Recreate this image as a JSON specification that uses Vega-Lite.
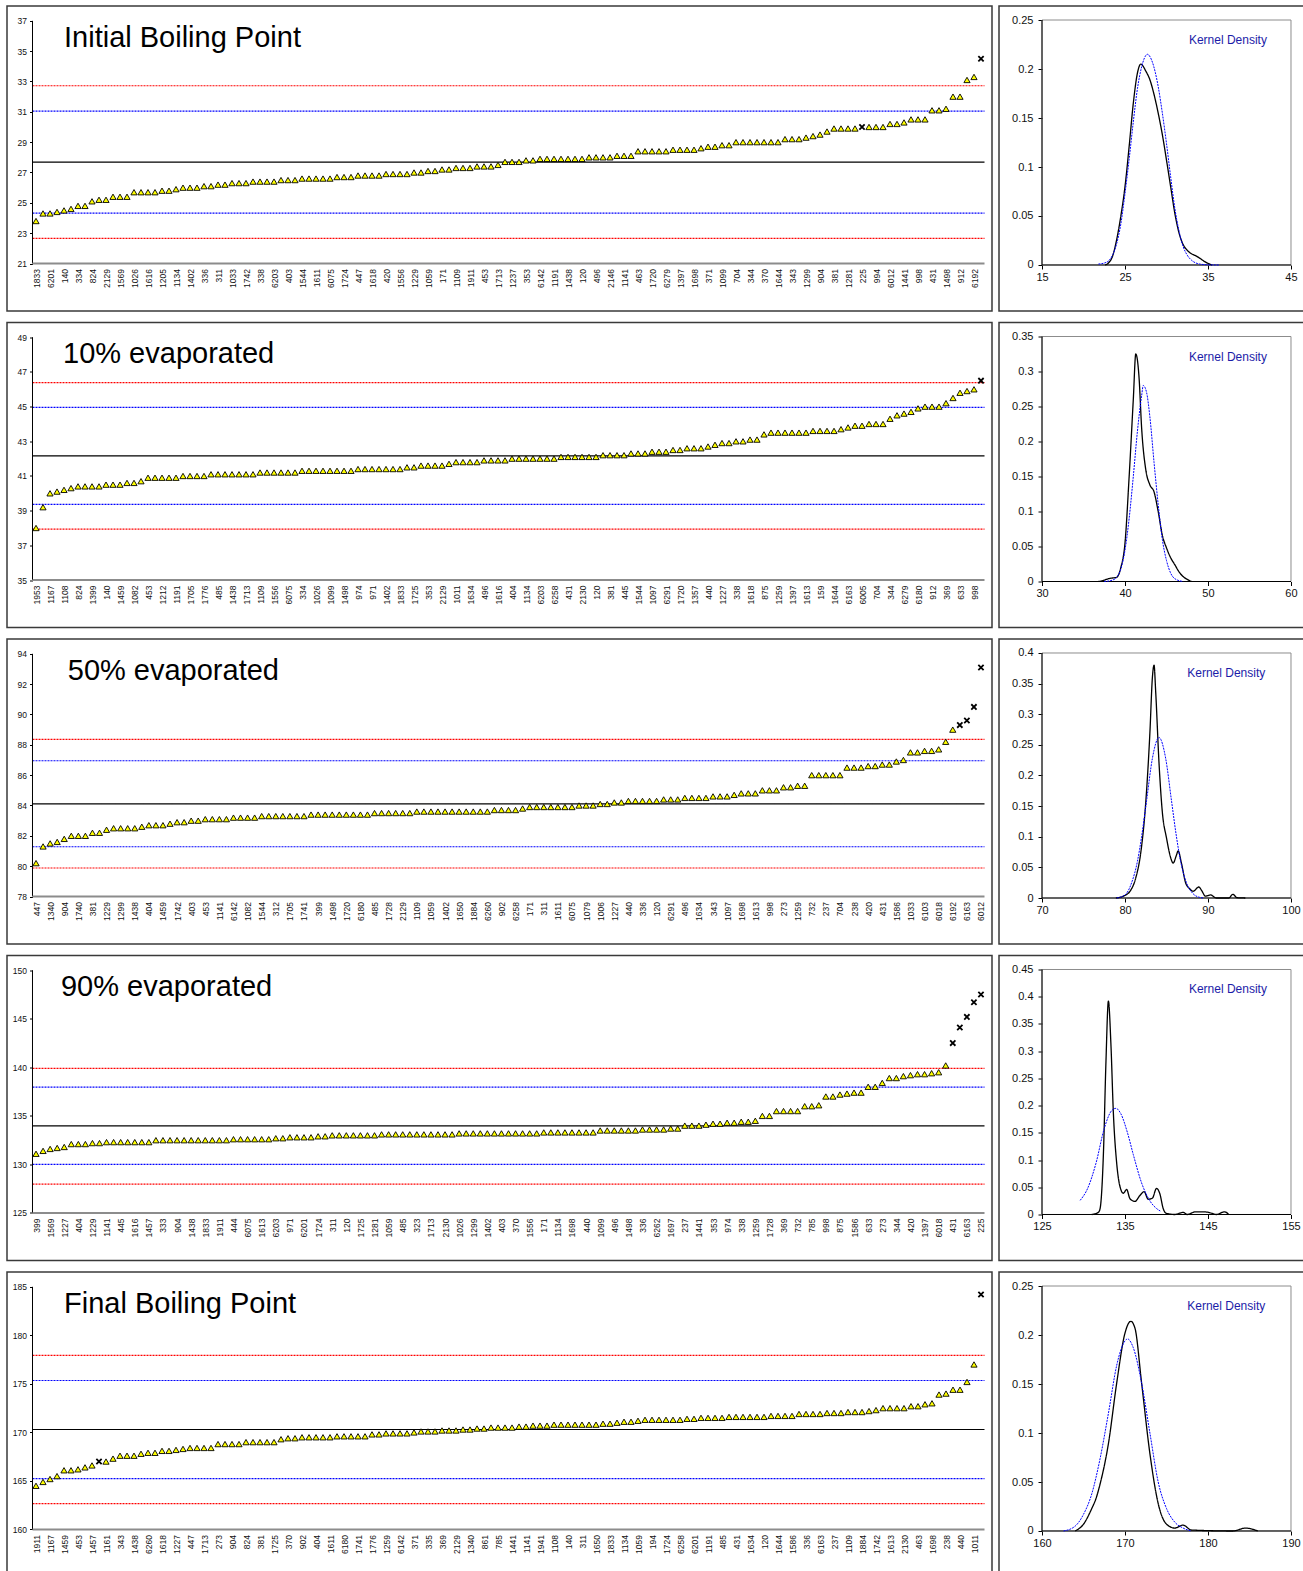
{
  "$schema": "https://vega.github.io/schema/vega-lite/v6.json",
  "background": "white",
  "padding": {"left": 6, "top": 5, "right": 0, "bottom": 0},
  "config": {
    "font": "Liberation Sans",
    "view": {"stroke": "#3a3a3a", "strokeWidth": 1.5},
    "axis": {"grid": false, "labelFont": "Liberation Sans", "labelColor": "#111111", "title": null, "domain": false, "tickCount": 300}
  },
  "datasets": {
    "p1": [{"i":0,"v":23.8},{"i":1,"v":24.3},{"i":2,"v":24.3},{"i":3,"v":24.4},{"i":4,"v":24.5},{"i":5,"v":24.6},{"i":6,"v":24.8},{"i":7,"v":24.8},{"i":8,"v":25.1},{"i":9,"v":25.2},{"i":10,"v":25.2},{"i":11,"v":25.4},{"i":12,"v":25.4},{"i":13,"v":25.4},{"i":14,"v":25.7},{"i":15,"v":25.7},{"i":16,"v":25.7},{"i":17,"v":25.7},{"i":18,"v":25.8},{"i":19,"v":25.8},{"i":20,"v":25.9},{"i":21,"v":26.0},{"i":22,"v":26.0},{"i":23,"v":26.0},{"i":24,"v":26.1},{"i":25,"v":26.1},{"i":26,"v":26.2},{"i":27,"v":26.2},{"i":28,"v":26.3},{"i":29,"v":26.3},{"i":30,"v":26.3},{"i":31,"v":26.4},{"i":32,"v":26.4},{"i":33,"v":26.4},{"i":34,"v":26.4},{"i":35,"v":26.5},{"i":36,"v":26.5},{"i":37,"v":26.5},{"i":38,"v":26.6},{"i":39,"v":26.6},{"i":40,"v":26.6},{"i":41,"v":26.6},{"i":42,"v":26.6},{"i":43,"v":26.7},{"i":44,"v":26.7},{"i":45,"v":26.7},{"i":46,"v":26.8},{"i":47,"v":26.8},{"i":48,"v":26.8},{"i":49,"v":26.8},{"i":50,"v":26.9},{"i":51,"v":26.9},{"i":52,"v":26.9},{"i":53,"v":26.9},{"i":54,"v":27.0},{"i":55,"v":27.0},{"i":56,"v":27.1},{"i":57,"v":27.1},{"i":58,"v":27.2},{"i":59,"v":27.2},{"i":60,"v":27.3},{"i":61,"v":27.3},{"i":62,"v":27.3},{"i":63,"v":27.4},{"i":64,"v":27.4},{"i":65,"v":27.4},{"i":66,"v":27.5},{"i":67,"v":27.7},{"i":68,"v":27.7},{"i":69,"v":27.7},{"i":70,"v":27.8},{"i":71,"v":27.8},{"i":72,"v":27.9},{"i":73,"v":27.9},{"i":74,"v":27.9},{"i":75,"v":27.9},{"i":76,"v":27.9},{"i":77,"v":27.9},{"i":78,"v":27.9},{"i":79,"v":28.0},{"i":80,"v":28.0},{"i":81,"v":28.0},{"i":82,"v":28.0},{"i":83,"v":28.1},{"i":84,"v":28.1},{"i":85,"v":28.1},{"i":86,"v":28.4},{"i":87,"v":28.4},{"i":88,"v":28.4},{"i":89,"v":28.4},{"i":90,"v":28.4},{"i":91,"v":28.5},{"i":92,"v":28.5},{"i":93,"v":28.5},{"i":94,"v":28.5},{"i":95,"v":28.6},{"i":96,"v":28.7},{"i":97,"v":28.7},{"i":98,"v":28.8},{"i":99,"v":28.8},{"i":100,"v":29.0},{"i":101,"v":29.0},{"i":102,"v":29.0},{"i":103,"v":29.0},{"i":104,"v":29.0},{"i":105,"v":29.0},{"i":106,"v":29.0},{"i":107,"v":29.2},{"i":108,"v":29.2},{"i":109,"v":29.2},{"i":110,"v":29.3},{"i":111,"v":29.4},{"i":112,"v":29.5},{"i":113,"v":29.7},{"i":114,"v":29.9},{"i":115,"v":29.9},{"i":116,"v":29.9},{"i":117,"v":29.9},{"i":118,"v":30.0,"o":true},{"i":119,"v":30.0},{"i":120,"v":30.0},{"i":121,"v":30.0},{"i":122,"v":30.2},{"i":123,"v":30.2},{"i":124,"v":30.3},{"i":125,"v":30.5},{"i":126,"v":30.5},{"i":127,"v":30.5},{"i":128,"v":31.1},{"i":129,"v":31.1},{"i":130,"v":31.2},{"i":131,"v":32.0},{"i":132,"v":32.0},{"i":133,"v":33.1},{"i":134,"v":33.3},{"i":135,"v":34.5,"o":true}],
    "p2": [{"i":0,"v":38.0},{"i":1,"v":39.2},{"i":2,"v":40.0},{"i":3,"v":40.1},{"i":4,"v":40.2},{"i":5,"v":40.3},{"i":6,"v":40.4},{"i":7,"v":40.4},{"i":8,"v":40.4},{"i":9,"v":40.4},{"i":10,"v":40.5},{"i":11,"v":40.5},{"i":12,"v":40.5},{"i":13,"v":40.6},{"i":14,"v":40.6},{"i":15,"v":40.7},{"i":16,"v":40.9},{"i":17,"v":40.9},{"i":18,"v":40.9},{"i":19,"v":40.9},{"i":20,"v":40.9},{"i":21,"v":41.0},{"i":22,"v":41.0},{"i":23,"v":41.0},{"i":24,"v":41.0},{"i":25,"v":41.1},{"i":26,"v":41.1},{"i":27,"v":41.1},{"i":28,"v":41.1},{"i":29,"v":41.1},{"i":30,"v":41.1},{"i":31,"v":41.1},{"i":32,"v":41.2},{"i":33,"v":41.2},{"i":34,"v":41.2},{"i":35,"v":41.2},{"i":36,"v":41.2},{"i":37,"v":41.2},{"i":38,"v":41.3},{"i":39,"v":41.3},{"i":40,"v":41.3},{"i":41,"v":41.3},{"i":42,"v":41.3},{"i":43,"v":41.3},{"i":44,"v":41.3},{"i":45,"v":41.3},{"i":46,"v":41.4},{"i":47,"v":41.4},{"i":48,"v":41.4},{"i":49,"v":41.4},{"i":50,"v":41.4},{"i":51,"v":41.4},{"i":52,"v":41.4},{"i":53,"v":41.5},{"i":54,"v":41.5},{"i":55,"v":41.6},{"i":56,"v":41.6},{"i":57,"v":41.6},{"i":58,"v":41.6},{"i":59,"v":41.7},{"i":60,"v":41.8},{"i":61,"v":41.8},{"i":62,"v":41.8},{"i":63,"v":41.8},{"i":64,"v":41.9},{"i":65,"v":41.9},{"i":66,"v":41.9},{"i":67,"v":41.9},{"i":68,"v":42.0},{"i":69,"v":42.0},{"i":70,"v":42.0},{"i":71,"v":42.0},{"i":72,"v":42.0},{"i":73,"v":42.0},{"i":74,"v":42.0},{"i":75,"v":42.1},{"i":76,"v":42.1},{"i":77,"v":42.1},{"i":78,"v":42.1},{"i":79,"v":42.1},{"i":80,"v":42.1},{"i":81,"v":42.2},{"i":82,"v":42.2},{"i":83,"v":42.2},{"i":84,"v":42.2},{"i":85,"v":42.3},{"i":86,"v":42.3},{"i":87,"v":42.3},{"i":88,"v":42.4},{"i":89,"v":42.4},{"i":90,"v":42.4},{"i":91,"v":42.5},{"i":92,"v":42.5},{"i":93,"v":42.6},{"i":94,"v":42.6},{"i":95,"v":42.6},{"i":96,"v":42.7},{"i":97,"v":42.8},{"i":98,"v":42.9},{"i":99,"v":42.9},{"i":100,"v":43.0},{"i":101,"v":43.0},{"i":102,"v":43.1},{"i":103,"v":43.1},{"i":104,"v":43.4},{"i":105,"v":43.5},{"i":106,"v":43.5},{"i":107,"v":43.5},{"i":108,"v":43.5},{"i":109,"v":43.5},{"i":110,"v":43.5},{"i":111,"v":43.6},{"i":112,"v":43.6},{"i":113,"v":43.6},{"i":114,"v":43.6},{"i":115,"v":43.7},{"i":116,"v":43.8},{"i":117,"v":43.9},{"i":118,"v":43.9},{"i":119,"v":44.0},{"i":120,"v":44.0},{"i":121,"v":44.0},{"i":122,"v":44.3},{"i":123,"v":44.5},{"i":124,"v":44.6},{"i":125,"v":44.7},{"i":126,"v":44.9},{"i":127,"v":45.0},{"i":128,"v":45.0},{"i":129,"v":45.0},{"i":130,"v":45.2},{"i":131,"v":45.5},{"i":132,"v":45.8},{"i":133,"v":45.9},{"i":134,"v":46.0},{"i":135,"v":46.5,"o":true}],
    "p3": [{"i":0,"v":80.2},{"i":1,"v":81.3},{"i":2,"v":81.5},{"i":3,"v":81.6},{"i":4,"v":81.8},{"i":5,"v":82.0},{"i":6,"v":82.0},{"i":7,"v":82.0},{"i":8,"v":82.2},{"i":9,"v":82.2},{"i":10,"v":82.4},{"i":11,"v":82.5},{"i":12,"v":82.5},{"i":13,"v":82.5},{"i":14,"v":82.5},{"i":15,"v":82.6},{"i":16,"v":82.7},{"i":17,"v":82.7},{"i":18,"v":82.7},{"i":19,"v":82.8},{"i":20,"v":82.9},{"i":21,"v":82.9},{"i":22,"v":83.0},{"i":23,"v":83.0},{"i":24,"v":83.1},{"i":25,"v":83.1},{"i":26,"v":83.1},{"i":27,"v":83.1},{"i":28,"v":83.2},{"i":29,"v":83.2},{"i":30,"v":83.2},{"i":31,"v":83.2},{"i":32,"v":83.3},{"i":33,"v":83.3},{"i":34,"v":83.3},{"i":35,"v":83.3},{"i":36,"v":83.3},{"i":37,"v":83.3},{"i":38,"v":83.3},{"i":39,"v":83.4},{"i":40,"v":83.4},{"i":41,"v":83.4},{"i":42,"v":83.4},{"i":43,"v":83.4},{"i":44,"v":83.4},{"i":45,"v":83.4},{"i":46,"v":83.4},{"i":47,"v":83.4},{"i":48,"v":83.5},{"i":49,"v":83.5},{"i":50,"v":83.5},{"i":51,"v":83.5},{"i":52,"v":83.5},{"i":53,"v":83.5},{"i":54,"v":83.6},{"i":55,"v":83.6},{"i":56,"v":83.6},{"i":57,"v":83.6},{"i":58,"v":83.6},{"i":59,"v":83.6},{"i":60,"v":83.6},{"i":61,"v":83.6},{"i":62,"v":83.6},{"i":63,"v":83.6},{"i":64,"v":83.6},{"i":65,"v":83.7},{"i":66,"v":83.7},{"i":67,"v":83.7},{"i":68,"v":83.7},{"i":69,"v":83.8},{"i":70,"v":83.9},{"i":71,"v":83.9},{"i":72,"v":83.9},{"i":73,"v":83.9},{"i":74,"v":83.9},{"i":75,"v":83.9},{"i":76,"v":83.9},{"i":77,"v":84.0},{"i":78,"v":84.0},{"i":79,"v":84.0},{"i":80,"v":84.1},{"i":81,"v":84.1},{"i":82,"v":84.2},{"i":83,"v":84.2},{"i":84,"v":84.3},{"i":85,"v":84.3},{"i":86,"v":84.3},{"i":87,"v":84.3},{"i":88,"v":84.3},{"i":89,"v":84.4},{"i":90,"v":84.4},{"i":91,"v":84.4},{"i":92,"v":84.5},{"i":93,"v":84.5},{"i":94,"v":84.5},{"i":95,"v":84.5},{"i":96,"v":84.6},{"i":97,"v":84.6},{"i":98,"v":84.6},{"i":99,"v":84.7},{"i":100,"v":84.8},{"i":101,"v":84.8},{"i":102,"v":84.8},{"i":103,"v":85.0},{"i":104,"v":85.0},{"i":105,"v":85.0},{"i":106,"v":85.2},{"i":107,"v":85.2},{"i":108,"v":85.3},{"i":109,"v":85.3},{"i":110,"v":86.0},{"i":111,"v":86.0},{"i":112,"v":86.0},{"i":113,"v":86.0},{"i":114,"v":86.0},{"i":115,"v":86.5},{"i":116,"v":86.5},{"i":117,"v":86.5},{"i":118,"v":86.6},{"i":119,"v":86.6},{"i":120,"v":86.7},{"i":121,"v":86.7},{"i":122,"v":86.9},{"i":123,"v":87.0},{"i":124,"v":87.5},{"i":125,"v":87.5},{"i":126,"v":87.6},{"i":127,"v":87.6},{"i":128,"v":87.7},{"i":129,"v":88.2},{"i":130,"v":89.0},{"i":131,"v":89.3,"o":true},{"i":132,"v":89.6,"o":true},{"i":133,"v":90.5,"o":true},{"i":134,"v":93.1,"o":true}],
    "p4": [{"i":0,"v":131.1},{"i":1,"v":131.4},{"i":2,"v":131.6},{"i":3,"v":131.7},{"i":4,"v":131.8},{"i":5,"v":132.1},{"i":6,"v":132.1},{"i":7,"v":132.1},{"i":8,"v":132.2},{"i":9,"v":132.2},{"i":10,"v":132.3},{"i":11,"v":132.3},{"i":12,"v":132.3},{"i":13,"v":132.3},{"i":14,"v":132.3},{"i":15,"v":132.3},{"i":16,"v":132.3},{"i":17,"v":132.5},{"i":18,"v":132.5},{"i":19,"v":132.5},{"i":20,"v":132.5},{"i":21,"v":132.5},{"i":22,"v":132.5},{"i":23,"v":132.5},{"i":24,"v":132.5},{"i":25,"v":132.5},{"i":26,"v":132.5},{"i":27,"v":132.5},{"i":28,"v":132.6},{"i":29,"v":132.6},{"i":30,"v":132.6},{"i":31,"v":132.6},{"i":32,"v":132.6},{"i":33,"v":132.6},{"i":34,"v":132.7},{"i":35,"v":132.7},{"i":36,"v":132.8},{"i":37,"v":132.8},{"i":38,"v":132.8},{"i":39,"v":132.8},{"i":40,"v":132.9},{"i":41,"v":132.9},{"i":42,"v":133.0},{"i":43,"v":133.0},{"i":44,"v":133.0},{"i":45,"v":133.0},{"i":46,"v":133.0},{"i":47,"v":133.0},{"i":48,"v":133.0},{"i":49,"v":133.1},{"i":50,"v":133.1},{"i":51,"v":133.1},{"i":52,"v":133.1},{"i":53,"v":133.1},{"i":54,"v":133.1},{"i":55,"v":133.1},{"i":56,"v":133.1},{"i":57,"v":133.1},{"i":58,"v":133.1},{"i":59,"v":133.1},{"i":60,"v":133.2},{"i":61,"v":133.2},{"i":62,"v":133.2},{"i":63,"v":133.2},{"i":64,"v":133.2},{"i":65,"v":133.2},{"i":66,"v":133.2},{"i":67,"v":133.2},{"i":68,"v":133.2},{"i":69,"v":133.2},{"i":70,"v":133.2},{"i":71,"v":133.2},{"i":72,"v":133.3},{"i":73,"v":133.3},{"i":74,"v":133.3},{"i":75,"v":133.3},{"i":76,"v":133.3},{"i":77,"v":133.3},{"i":78,"v":133.3},{"i":79,"v":133.3},{"i":80,"v":133.5},{"i":81,"v":133.5},{"i":82,"v":133.5},{"i":83,"v":133.5},{"i":84,"v":133.5},{"i":85,"v":133.5},{"i":86,"v":133.6},{"i":87,"v":133.6},{"i":88,"v":133.6},{"i":89,"v":133.6},{"i":90,"v":133.7},{"i":91,"v":133.7},{"i":92,"v":134.0},{"i":93,"v":134.0},{"i":94,"v":134.0},{"i":95,"v":134.1},{"i":96,"v":134.2},{"i":97,"v":134.2},{"i":98,"v":134.3},{"i":99,"v":134.3},{"i":100,"v":134.4},{"i":101,"v":134.4},{"i":102,"v":134.5},{"i":103,"v":135.0},{"i":104,"v":135.0},{"i":105,"v":135.5},{"i":106,"v":135.5},{"i":107,"v":135.5},{"i":108,"v":135.5},{"i":109,"v":136.0},{"i":110,"v":136.0},{"i":111,"v":136.1},{"i":112,"v":137.0},{"i":113,"v":137.0},{"i":114,"v":137.2},{"i":115,"v":137.3},{"i":116,"v":137.4},{"i":117,"v":137.4},{"i":118,"v":138.0},{"i":119,"v":138.0},{"i":120,"v":138.4},{"i":121,"v":138.9},{"i":122,"v":138.9},{"i":123,"v":139.1},{"i":124,"v":139.2},{"i":125,"v":139.3},{"i":126,"v":139.3},{"i":127,"v":139.4},{"i":128,"v":139.5},{"i":129,"v":140.2},{"i":130,"v":142.5,"o":true},{"i":131,"v":144.1,"o":true},{"i":132,"v":145.2,"o":true},{"i":133,"v":146.7,"o":true},{"i":134,"v":147.5,"o":true}],
    "p5": [{"i":0,"v":164.5},{"i":1,"v":164.9},{"i":2,"v":165.2},{"i":3,"v":165.5},{"i":4,"v":166.1},{"i":5,"v":166.1},{"i":6,"v":166.2},{"i":7,"v":166.4},{"i":8,"v":166.6},{"i":9,"v":167.0,"o":true},{"i":10,"v":167.0},{"i":11,"v":167.3},{"i":12,"v":167.6},{"i":13,"v":167.6},{"i":14,"v":167.6},{"i":15,"v":167.8},{"i":16,"v":167.9},{"i":17,"v":167.9},{"i":18,"v":168.1},{"i":19,"v":168.1},{"i":20,"v":168.2},{"i":21,"v":168.3},{"i":22,"v":168.4},{"i":23,"v":168.4},{"i":24,"v":168.4},{"i":25,"v":168.4},{"i":26,"v":168.8},{"i":27,"v":168.8},{"i":28,"v":168.8},{"i":29,"v":168.8},{"i":30,"v":169.0},{"i":31,"v":169.0},{"i":32,"v":169.0},{"i":33,"v":169.0},{"i":34,"v":169.0},{"i":35,"v":169.3},{"i":36,"v":169.4},{"i":37,"v":169.4},{"i":38,"v":169.5},{"i":39,"v":169.5},{"i":40,"v":169.5},{"i":41,"v":169.5},{"i":42,"v":169.5},{"i":43,"v":169.6},{"i":44,"v":169.6},{"i":45,"v":169.6},{"i":46,"v":169.6},{"i":47,"v":169.6},{"i":48,"v":169.8},{"i":49,"v":169.8},{"i":50,"v":169.9},{"i":51,"v":169.9},{"i":52,"v":169.9},{"i":53,"v":169.9},{"i":54,"v":170.0},{"i":55,"v":170.1},{"i":56,"v":170.1},{"i":57,"v":170.1},{"i":58,"v":170.2},{"i":59,"v":170.2},{"i":60,"v":170.2},{"i":61,"v":170.3},{"i":62,"v":170.3},{"i":63,"v":170.4},{"i":64,"v":170.4},{"i":65,"v":170.5},{"i":66,"v":170.5},{"i":67,"v":170.5},{"i":68,"v":170.5},{"i":69,"v":170.6},{"i":70,"v":170.6},{"i":71,"v":170.7},{"i":72,"v":170.7},{"i":73,"v":170.7},{"i":74,"v":170.8},{"i":75,"v":170.8},{"i":76,"v":170.8},{"i":77,"v":170.8},{"i":78,"v":170.8},{"i":79,"v":170.8},{"i":80,"v":170.8},{"i":81,"v":170.9},{"i":82,"v":170.9},{"i":83,"v":171.0},{"i":84,"v":171.1},{"i":85,"v":171.1},{"i":86,"v":171.2},{"i":87,"v":171.3},{"i":88,"v":171.3},{"i":89,"v":171.3},{"i":90,"v":171.3},{"i":91,"v":171.3},{"i":92,"v":171.3},{"i":93,"v":171.4},{"i":94,"v":171.4},{"i":95,"v":171.5},{"i":96,"v":171.5},{"i":97,"v":171.5},{"i":98,"v":171.5},{"i":99,"v":171.6},{"i":100,"v":171.6},{"i":101,"v":171.6},{"i":102,"v":171.6},{"i":103,"v":171.6},{"i":104,"v":171.6},{"i":105,"v":171.7},{"i":106,"v":171.7},{"i":107,"v":171.7},{"i":108,"v":171.7},{"i":109,"v":171.9},{"i":110,"v":171.9},{"i":111,"v":171.9},{"i":112,"v":171.9},{"i":113,"v":172.0},{"i":114,"v":172.0},{"i":115,"v":172.0},{"i":116,"v":172.1},{"i":117,"v":172.1},{"i":118,"v":172.1},{"i":119,"v":172.2},{"i":120,"v":172.3},{"i":121,"v":172.5},{"i":122,"v":172.5},{"i":123,"v":172.5},{"i":124,"v":172.5},{"i":125,"v":172.7},{"i":126,"v":172.7},{"i":127,"v":172.9},{"i":128,"v":173.0},{"i":129,"v":173.9},{"i":130,"v":174.0},{"i":131,"v":174.4},{"i":132,"v":174.4},{"i":133,"v":175.2},{"i":134,"v":177.0},{"i":135,"v":184.2,"o":true}],
    "r1": [{"k":"mean","v":27.68},{"k":"inner","v":24.32},{"k":"inner","v":31.04},{"k":"outer","v":22.66},{"k":"outer","v":32.72}],
    "r2": [{"k":"mean","v":42.16},{"k":"inner","v":39.36},{"k":"inner","v":44.96},{"k":"outer","v":37.94},{"k":"outer","v":46.38}],
    "r3": [{"k":"mean","v":84.11},{"k":"inner","v":81.28},{"k":"inner","v":86.95},{"k":"outer","v":79.88},{"k":"outer","v":88.36}],
    "r4": [{"k":"mean","v":133.98},{"k":"inner","v":130.0},{"k":"inner","v":137.96},{"k":"outer","v":127.98},{"k":"outer","v":139.9}],
    "r5": [{"k":"mean","v":170.3},{"k":"inner","v":165.25},{"k":"inner","v":175.35},{"k":"outer","v":162.67},{"k":"outer","v":177.93}],
    "d1": [{"c":"kernel","x":22.6,"y":0},{"c":"kernel","x":23,"y":0.002},{"c":"kernel","x":23.5,"y":0.009},{"c":"kernel","x":24,"y":0.026},{"c":"kernel","x":24.5,"y":0.05},{"c":"kernel","x":25,"y":0.08},{"c":"kernel","x":25.5,"y":0.121},{"c":"kernel","x":26,"y":0.165},{"c":"kernel","x":26.5,"y":0.196},{"c":"kernel","x":26.9,"y":0.205},{"c":"kernel","x":27.5,"y":0.198},{"c":"kernel","x":28,"y":0.189},{"c":"kernel","x":28.5,"y":0.174},{"c":"kernel","x":29,"y":0.155},{"c":"kernel","x":29.5,"y":0.133},{"c":"kernel","x":30,"y":0.107},{"c":"kernel","x":30.5,"y":0.08},{"c":"kernel","x":31,"y":0.053},{"c":"kernel","x":31.5,"y":0.033},{"c":"kernel","x":32,"y":0.021},{"c":"kernel","x":32.5,"y":0.015},{"c":"kernel","x":33,"y":0.0115},{"c":"kernel","x":33.5,"y":0.0095},{"c":"kernel","x":34,"y":0.007},{"c":"kernel","x":34.5,"y":0.004},{"c":"kernel","x":35,"y":0.0017},{"c":"kernel","x":35.5,"y":0},
           {"c":"normal","x":21.8,"y":0.001},{"c":"normal","x":22.5,"y":0.002},{"c":"normal","x":23,"y":0.004},{"c":"normal","x":23.5,"y":0.01},{"c":"normal","x":24,"y":0.022},{"c":"normal","x":24.5,"y":0.042},{"c":"normal","x":25,"y":0.073},{"c":"normal","x":25.5,"y":0.108},{"c":"normal","x":26,"y":0.146},{"c":"normal","x":26.5,"y":0.18},{"c":"normal","x":27,"y":0.202},{"c":"normal","x":27.7,"y":0.215},{"c":"normal","x":28.3,"y":0.207},{"c":"normal","x":29,"y":0.182},{"c":"normal","x":29.5,"y":0.155},{"c":"normal","x":30,"y":0.124},{"c":"normal","x":30.5,"y":0.09},{"c":"normal","x":31,"y":0.058},{"c":"normal","x":31.5,"y":0.035},{"c":"normal","x":32,"y":0.019},{"c":"normal","x":32.5,"y":0.01},{"c":"normal","x":33,"y":0.005},{"c":"normal","x":34,"y":0.001},{"c":"normal","x":35,"y":0.0002},{"c":"normal","x":36.3,"y":0}],
    "d2": [{"c":"kernel","x":36.8,"y":0},{"c":"kernel","x":37.5,"y":0.002},{"c":"kernel","x":38,"y":0.004},{"c":"kernel","x":38.5,"y":0.005},{"c":"kernel","x":39,"y":0.006},{"c":"kernel","x":39.5,"y":0.02},{"c":"kernel","x":40,"y":0.055},{"c":"kernel","x":40.5,"y":0.15},{"c":"kernel","x":41,"y":0.26},{"c":"kernel","x":41.3,"y":0.325},{"c":"kernel","x":41.7,"y":0.29},{"c":"kernel","x":42,"y":0.22},{"c":"kernel","x":42.5,"y":0.16},{"c":"kernel","x":43,"y":0.138},{"c":"kernel","x":43.5,"y":0.128},{"c":"kernel","x":44,"y":0.1},{"c":"kernel","x":44.5,"y":0.066},{"c":"kernel","x":45,"y":0.048},{"c":"kernel","x":45.5,"y":0.034},{"c":"kernel","x":46,"y":0.024},{"c":"kernel","x":46.5,"y":0.014},{"c":"kernel","x":47,"y":0.007},{"c":"kernel","x":47.5,"y":0.003},{"c":"kernel","x":48,"y":0},
           {"c":"normal","x":37.5,"y":0},{"c":"normal","x":38.5,"y":0.002},{"c":"normal","x":39,"y":0.006},{"c":"normal","x":39.5,"y":0.018},{"c":"normal","x":40,"y":0.045},{"c":"normal","x":40.5,"y":0.09},{"c":"normal","x":41,"y":0.15},{"c":"normal","x":41.5,"y":0.215},{"c":"normal","x":42,"y":0.265},{"c":"normal","x":42.2,"y":0.28},{"c":"normal","x":42.6,"y":0.27},{"c":"normal","x":43,"y":0.235},{"c":"normal","x":43.5,"y":0.17},{"c":"normal","x":44,"y":0.11},{"c":"normal","x":44.5,"y":0.06},{"c":"normal","x":45,"y":0.03},{"c":"normal","x":45.5,"y":0.012},{"c":"normal","x":46,"y":0.004},{"c":"normal","x":47,"y":0}],
    "d3": [{"c":"kernel","x":78.9,"y":0},{"c":"kernel","x":79.8,"y":0.003},{"c":"kernel","x":80.6,"y":0.011},{"c":"kernel","x":81.3,"y":0.033},{"c":"kernel","x":81.9,"y":0.074},{"c":"kernel","x":82.5,"y":0.156},{"c":"kernel","x":83,"y":0.27},{"c":"kernel","x":83.3,"y":0.36},{"c":"kernel","x":83.5,"y":0.38},{"c":"kernel","x":83.7,"y":0.336},{"c":"kernel","x":84.1,"y":0.22},{"c":"kernel","x":84.5,"y":0.14},{"c":"kernel","x":85,"y":0.098},{"c":"kernel","x":85.5,"y":0.066},{"c":"kernel","x":85.8,"y":0.057},{"c":"kernel","x":86.2,"y":0.07},{"c":"kernel","x":86.4,"y":0.077},{"c":"kernel","x":86.8,"y":0.057},{"c":"kernel","x":87.3,"y":0.025},{"c":"kernel","x":87.8,"y":0.015},{"c":"kernel","x":88.2,"y":0.011},{"c":"kernel","x":88.9,"y":0.018},{"c":"kernel","x":89.2,"y":0.013},{"c":"kernel","x":89.7,"y":0.003},{"c":"kernel","x":90.3,"y":0.005},{"c":"kernel","x":91,"y":0},{"c":"kernel","x":92.5,"y":0},{"c":"kernel","x":93,"y":0.006},{"c":"kernel","x":93.5,"y":0.0005},{"c":"kernel","x":94.5,"y":0},
           {"c":"normal","x":79,"y":0},{"c":"normal","x":80,"y":0.005},{"c":"normal","x":80.8,"y":0.025},{"c":"normal","x":81.5,"y":0.06},{"c":"normal","x":82,"y":0.1},{"c":"normal","x":82.6,"y":0.159},{"c":"normal","x":83.3,"y":0.228},{"c":"normal","x":84.1,"y":0.262},{"c":"normal","x":84.9,"y":0.228},{"c":"normal","x":85.6,"y":0.159},{"c":"normal","x":86.2,"y":0.1},{"c":"normal","x":86.7,"y":0.06},{"c":"normal","x":87.4,"y":0.025},{"c":"normal","x":88.2,"y":0.007},{"c":"normal","x":89,"y":0.001},{"c":"normal","x":89.5,"y":0}],
    "d4": [{"c":"kernel","x":131,"y":0},{"c":"kernel","x":131.8,"y":0.004},{"c":"kernel","x":132,"y":0.011},{"c":"kernel","x":132.4,"y":0.112},{"c":"kernel","x":132.7,"y":0.278},{"c":"kernel","x":133,"y":0.392},{"c":"kernel","x":133.3,"y":0.314},{"c":"kernel","x":133.6,"y":0.186},{"c":"kernel","x":134,"y":0.094},{"c":"kernel","x":134.4,"y":0.051},{"c":"kernel","x":134.8,"y":0.039},{"c":"kernel","x":135.2,"y":0.046},{"c":"kernel","x":135.6,"y":0.029},{"c":"kernel","x":136.2,"y":0.024},{"c":"kernel","x":136.8,"y":0.035},{"c":"kernel","x":137.3,"y":0.042},{"c":"kernel","x":137.8,"y":0.028},{"c":"kernel","x":138.3,"y":0.03},{"c":"kernel","x":138.8,"y":0.048},{"c":"kernel","x":139.2,"y":0.038},{"c":"kernel","x":139.6,"y":0.011},{"c":"kernel","x":140,"y":0.002},{"c":"kernel","x":141,"y":0},{"c":"kernel","x":142,"y":0.004},{"c":"kernel","x":142.5,"y":0},{"c":"kernel","x":143.5,"y":0.005},{"c":"kernel","x":144.5,"y":0.005},{"c":"kernel","x":145.5,"y":0.002},{"c":"kernel","x":146,"y":0},{"c":"kernel","x":147,"y":0.005},{"c":"kernel","x":147.5,"y":0},
           {"c":"normal","x":129.6,"y":0.026},{"c":"normal","x":130.5,"y":0.048},{"c":"normal","x":131.5,"y":0.094},{"c":"normal","x":132.5,"y":0.158},{"c":"normal","x":133.4,"y":0.191},{"c":"normal","x":133.9,"y":0.195},{"c":"normal","x":134.5,"y":0.185},{"c":"normal","x":135.3,"y":0.15},{"c":"normal","x":136,"y":0.11},{"c":"normal","x":137,"y":0.058},{"c":"normal","x":138,"y":0.025},{"c":"normal","x":138.8,"y":0.011},{"c":"normal","x":139.3,"y":0.006}],
    "d5": [{"c":"kernel","x":164,"y":0},{"c":"kernel","x":165,"y":0.007},{"c":"kernel","x":166,"y":0.023},{"c":"kernel","x":166.5,"y":0.033},{"c":"kernel","x":167,"y":0.048},{"c":"kernel","x":168,"y":0.089},{"c":"kernel","x":169,"y":0.151},{"c":"kernel","x":170,"y":0.202},{"c":"kernel","x":170.7,"y":0.214},{"c":"kernel","x":171.2,"y":0.207},{"c":"kernel","x":172,"y":0.151},{"c":"kernel","x":173,"y":0.079},{"c":"kernel","x":174,"y":0.028},{"c":"kernel","x":175,"y":0.007},{"c":"kernel","x":176,"y":0.003},{"c":"kernel","x":177,"y":0.006},{"c":"kernel","x":178,"y":0.001},{"c":"kernel","x":183,"y":0},{"c":"kernel","x":184.5,"y":0.003},{"c":"kernel","x":186,"y":0},
           {"c":"normal","x":162.6,"y":0},{"c":"normal","x":164,"y":0.005},{"c":"normal","x":165,"y":0.017},{"c":"normal","x":166,"y":0.038},{"c":"normal","x":167,"y":0.074},{"c":"normal","x":168,"y":0.12},{"c":"normal","x":169,"y":0.169},{"c":"normal","x":170,"y":0.194},{"c":"normal","x":170.3,"y":0.196},{"c":"normal","x":171,"y":0.187},{"c":"normal","x":172,"y":0.151},{"c":"normal","x":173,"y":0.1},{"c":"normal","x":174,"y":0.05},{"c":"normal","x":175,"y":0.023},{"c":"normal","x":176,"y":0.009},{"c":"normal","x":177,"y":0.003},{"c":"normal","x":178,"y":0}]
  },
  "vconcat": [
    {"hconcat": [
      {"width": 985, "height": 305, "layer": [
        {"data": {"name": "r1"}, "mark": {"type": "rule", "strokeWidth": 1.2},
         "encoding": {
           "y": {"field": "v", "type": "quantitative", "title": null, "scale": {"domain": [17.869, 37.976], "nice": false, "zero": false},
                 "axis": {"values": [21,23,25,27,29,31,33,35,37], "format": "d", "tickCount": 300, "labelOverlap": false, "offset": -25.5, "tickSize": 3, "tickColor": "#000", "labelFontSize": 8.5, "labelPadding": 3}},
           "x": {"datum": -0.5, "type": "quantitative", "scale": {"domain": [-4.143, 136.571], "nice": false, "zero": false},
                 "axis": {"values": [0,2,4,6,8,10,12,14,16,18,20,22,24,26,28,30,32,34,36,38,40,42,44,46,48,50,52,54,56,58,60,62,64,66,68,70,72,74,76,78,80,82,84,86,88,90,92,94,96,98,100,102,104,106,108,110,112,114,116,118,120,122,124,126,128,130,132,134], "tickCount": 300,
                          "labelExpr": "['1833','6201','140','334','824','2129','1569','1026','1616','1205','1134','1402','336','311','1033','1742','338','6203','403','1544','1611','6075','1724','447','1618','420','1556','1229','1059','171','1109','1911','453','1713','1237','353','6142','1191','1438','120','496','2146','1141','463','1720','6279','1397','1698','371','1099','704','344','370','1644','343','1299','904','381','1281','225','994','6012','1441','998','431','1498','912','6192'][datum.value/2]",
                          "labelAngle": 270, "labelAlign": "right", "labelBaseline": "middle", "labelFontSize": 8.5, "labelPadding": 5, "labelFlush": false, "labelOverlap": false, "ticks": false, "offset": -47.5}},
           "x2": {"datum": 135.5},
           "color": {"field": "k", "type": "nominal", "scale": {"domain": ["mean", "inner", "outer"], "range": ["#000000", "#0000ff", "#ff0000"]}, "legend": null},
           "strokeDash": {"field": "k", "type": "nominal", "scale": {"domain": ["mean", "inner", "outer"], "range": [[1, 0], [2, 1], [2, 1]]}, "legend": null}
         }},
        {"data": {"values": [{}]}, "mark": {"type": "rule", "color": "#000000", "strokeWidth": 1}, "encoding": {"x": {"datum": -0.5}, "y": {"datum": 21}, "y2": {"datum": 37}}},
        {"data": {"values": [{}]}, "mark": {"type": "rule", "color": "#8c8c8c", "strokeWidth": 2}, "encoding": {"x": {"datum": -0.5}, "x2": {"datum": 135.5}, "y": {"datum": 21}}},
        {"data": {"name": "p1"}, "mark": {"type": "point", "filled": true, "stroke": "#000000", "opacity": 1},
         "encoding": {
           "x": {"field": "i", "type": "quantitative", "title": null},
           "y": {"field": "v", "type": "quantitative", "title": null},
           "shape": {"condition": {"test": "datum.o", "value": "M-1,-1L1,1M-1,1L1,-1"}, "value": "triangle-up"},
           "fill": {"condition": {"test": "datum.o", "value": "transparent"}, "value": "#ffff00"},
           "strokeWidth": {"condition": {"test": "datum.o", "value": 1.8}, "value": 0.9},
           "size": {"condition": {"test": "datum.o", "value": 28}, "value": 38}
         }},
        {"data": {"values": [{"t": "Initial Boiling Point"}]}, "mark": {"type": "text", "fontSize": 29, "align": "left", "baseline": "alphabetic", "color": "#000000"},
         "encoding": {"x": {"datum": 4.0}, "y": {"datum": 35.29}, "text": {"field": "t"}}}
      ]},
      {"width": 306, "height": 305, "layer": [
        {"data": {"values": [{}]}, "mark": {"type": "rect", "fill": "transparent", "stroke": "#8c8c8c", "strokeWidth": 1},
         "encoding": {"x": {"datum": 15, "type": "quantitative", "scale": {"domain": [9.819, 46.687], "nice": false, "zero": false}}, "x2": {"datum": 45}, "y": {"datum": 0, "type": "quantitative", "scale": {"domain": [-0.046939, 0.264286], "nice": false, "zero": false}}, "y2": {"datum": 0.25}}},
        {"data": {"values": [{}]}, "mark": {"type": "rule", "color": "#000000"}, "encoding": {"x": {"datum": 15}, "y": {"datum": 0}, "y2": {"datum": 0.25}}},
        {"data": {"values": [{}]}, "mark": {"type": "rule", "color": "#000000"}, "encoding": {"x": {"datum": 15}, "x2": {"datum": 45}, "y": {"datum": 0}}},
        {"data": {"name": "d1"}, "mark": {"type": "line", "interpolate": "monotone"},
         "encoding": {
           "x": {"field": "x", "type": "quantitative", "title": null, "axis": {"values": [15, 25, 35, 45], "format": "d", "tickCount": 300, "labelOverlap": false, "offset": -46, "tickSize": 4, "tickColor": "#000", "labelFontSize": 11, "labelPadding": 2, "labelFlush": false}},
           "y": {"field": "y", "type": "quantitative", "title": null, "axis": {"values": [0, 0.05, 0.1, 0.15, 0.2, 0.25], "tickCount": 300, "labelOverlap": false, "format": "~g", "offset": -43, "tickSize": 4, "tickColor": "#000", "labelFontSize": 11, "labelPadding": 5}},
           "color": {"field": "c", "type": "nominal", "scale": {"domain": ["kernel", "normal"], "range": ["#000000", "#0000ff"]}, "legend": null},
           "strokeDash": {"field": "c", "type": "nominal", "scale": {"domain": ["kernel", "normal"], "range": [[1, 0], [2, 1.5]]}, "legend": null},
           "strokeWidth": {"field": "c", "type": "nominal", "scale": {"domain": ["kernel", "normal"], "range": [1.3, 1]}, "legend": null}
         }},
        {"data": {"values": [{"t": "Kernel Density"}]}, "mark": {"type": "text", "fontSize": 12, "align": "left", "baseline": "alphabetic", "color": "#1c1ca8"},
         "encoding": {"x": {"datum": 32.7}, "y": {"datum": 0.2255}, "text": {"field": "t"}}}
      ]}
    ], "spacing": 5},

    {"hconcat": [
      {"width": 985, "height": 305, "layer": [
        {"data": {"name": "r2"}, "mark": {"type": "rule", "strokeWidth": 1.2},
         "encoding": {
           "y": {"field": "v", "type": "quantitative", "title": null, "scale": {"domain": [32.26, 49.854], "nice": false, "zero": false},
                 "axis": {"values": [35,37,39,41,43,45,47,49], "format": "d", "tickCount": 300, "labelOverlap": false, "offset": -25.5, "tickSize": 3, "tickColor": "#000", "labelFontSize": 8.5, "labelPadding": 3}},
           "x": {"datum": -0.5, "type": "quantitative", "scale": {"domain": [-4.143, 136.571], "nice": false, "zero": false},
                 "axis": {"values": [0,2,4,6,8,10,12,14,16,18,20,22,24,26,28,30,32,34,36,38,40,42,44,46,48,50,52,54,56,58,60,62,64,66,68,70,72,74,76,78,80,82,84,86,88,90,92,94,96,98,100,102,104,106,108,110,112,114,116,118,120,122,124,126,128,130,132,134], "tickCount": 300,
                          "labelExpr": "['1953','1167','1108','824','1399','140','1459','1082','453','1212','1191','1705','1776','485','1438','1713','1109','1556','6075','334','1026','1099','1498','974','971','1402','1833','1725','353','2129','1011','1634','496','1616','404','1134','6203','6258','431','2130','120','381','445','1544','1097','6291','1720','1357','440','1227','338','1618','875','1259','1397','1613','159','1644','6163','6005','704','344','6279','6180','912','369','633','998'][datum.value/2]",
                          "labelAngle": 270, "labelAlign": "right", "labelBaseline": "middle", "labelFontSize": 8.5, "labelPadding": 5, "labelFlush": false, "labelOverlap": false, "ticks": false, "offset": -47.5}},
           "x2": {"datum": 135.5},
           "color": {"field": "k", "type": "nominal", "scale": {"domain": ["mean", "inner", "outer"], "range": ["#000000", "#0000ff", "#ff0000"]}, "legend": null},
           "strokeDash": {"field": "k", "type": "nominal", "scale": {"domain": ["mean", "inner", "outer"], "range": [[1, 0], [2, 1], [2, 1]]}, "legend": null}
         }},
        {"data": {"values": [{}]}, "mark": {"type": "rule", "color": "#000000", "strokeWidth": 1}, "encoding": {"x": {"datum": -0.5}, "y": {"datum": 35}, "y2": {"datum": 49}}},
        {"data": {"values": [{}]}, "mark": {"type": "rule", "color": "#8c8c8c", "strokeWidth": 2}, "encoding": {"x": {"datum": -0.5}, "x2": {"datum": 135.5}, "y": {"datum": 35}}},
        {"data": {"name": "p2"}, "mark": {"type": "point", "filled": true, "stroke": "#000000", "opacity": 1},
         "encoding": {
           "x": {"field": "i", "type": "quantitative", "title": null},
           "y": {"field": "v", "type": "quantitative", "title": null},
           "shape": {"condition": {"test": "datum.o", "value": "M-1,-1L1,1M-1,1L1,-1"}, "value": "triangle-up"},
           "fill": {"condition": {"test": "datum.o", "value": "transparent"}, "value": "#ffff00"},
           "strokeWidth": {"condition": {"test": "datum.o", "value": 1.8}, "value": 0.9},
           "size": {"condition": {"test": "datum.o", "value": 28}, "value": 38}
         }},
        {"data": {"values": [{"t": "10% evaporated"}]}, "mark": {"type": "text", "fontSize": 29, "align": "left", "baseline": "alphabetic", "color": "#000000"},
         "encoding": {"x": {"datum": 3.86}, "y": {"datum": 47.5}, "text": {"field": "t"}}}
      ]},
      {"width": 306, "height": 305, "layer": [
        {"data": {"values": [{}]}, "mark": {"type": "rect", "fill": "transparent", "stroke": "#8c8c8c", "strokeWidth": 1},
         "encoding": {"x": {"datum": 30, "type": "quantitative", "scale": {"domain": [24.819, 61.687], "nice": false, "zero": false}}, "x2": {"datum": 60}, "y": {"datum": 0, "type": "quantitative", "scale": {"domain": [-0.065714, 0.37], "nice": false, "zero": false}}, "y2": {"datum": 0.35}}},
        {"data": {"values": [{}]}, "mark": {"type": "rule", "color": "#000000"}, "encoding": {"x": {"datum": 30}, "y": {"datum": 0}, "y2": {"datum": 0.35}}},
        {"data": {"values": [{}]}, "mark": {"type": "rule", "color": "#000000"}, "encoding": {"x": {"datum": 30}, "x2": {"datum": 60}, "y": {"datum": 0}}},
        {"data": {"name": "d2"}, "mark": {"type": "line", "interpolate": "monotone"},
         "encoding": {
           "x": {"field": "x", "type": "quantitative", "title": null, "axis": {"values": [30, 40, 50, 60], "format": "d", "tickCount": 300, "labelOverlap": false, "offset": -46, "tickSize": 4, "tickColor": "#000", "labelFontSize": 11, "labelPadding": 2, "labelFlush": false}},
           "y": {"field": "y", "type": "quantitative", "title": null, "axis": {"values": [0, 0.05, 0.1, 0.15, 0.2, 0.25, 0.3, 0.35], "tickCount": 300, "labelOverlap": false, "format": "~g", "offset": -43, "tickSize": 4, "tickColor": "#000", "labelFontSize": 11, "labelPadding": 5}},
           "color": {"field": "c", "type": "nominal", "scale": {"domain": ["kernel", "normal"], "range": ["#000000", "#0000ff"]}, "legend": null},
           "strokeDash": {"field": "c", "type": "nominal", "scale": {"domain": ["kernel", "normal"], "range": [[1, 0], [2, 1.5]]}, "legend": null},
           "strokeWidth": {"field": "c", "type": "nominal", "scale": {"domain": ["kernel", "normal"], "range": [1.3, 1]}, "legend": null}
         }},
        {"data": {"values": [{"t": "Kernel Density"}]}, "mark": {"type": "text", "fontSize": 12, "align": "left", "baseline": "alphabetic", "color": "#1c1ca8"},
         "encoding": {"x": {"datum": 47.7}, "y": {"datum": 0.3157}, "text": {"field": "t"}}}
      ]}
    ], "spacing": 5},

    {"hconcat": [
      {"width": 985, "height": 305, "layer": [
        {"data": {"name": "r3"}, "mark": {"type": "rule", "strokeWidth": 1.2},
         "encoding": {
           "y": {"field": "v", "type": "quantitative", "title": null, "scale": {"domain": [74.869, 94.976], "nice": false, "zero": false},
                 "axis": {"values": [78,80,82,84,86,88,90,92,94], "format": "d", "tickCount": 300, "labelOverlap": false, "offset": -25.5, "tickSize": 3, "tickColor": "#000", "labelFontSize": 8.5, "labelPadding": 3}},
           "x": {"datum": -0.5, "type": "quantitative", "scale": {"domain": [-4.116, 135.564], "nice": false, "zero": false},
                 "axis": {"values": [0,2,4,6,8,10,12,14,16,18,20,22,24,26,28,30,32,34,36,38,40,42,44,46,48,50,52,54,56,58,60,62,64,66,68,70,72,74,76,78,80,82,84,86,88,90,92,94,96,98,100,102,104,106,108,110,112,114,116,118,120,122,124,126,128,130,132,134], "tickCount": 300,
                          "labelExpr": "['447','1340','904','1740','381','1229','1299','1438','404','1459','1742','403','453','1141','6142','1082','1544','312','1705','1741','399','1498','1720','6180','485','1728','2129','1109','1059','1402','1650','1884','6260','902','6258','171','311','1611','6075','1079','1006','1227','440','336','120','6291','496','1634','343','1097','1698','1613','998','273','1259','732','237','704','238','420','431','1586','1033','6103','6018','6192','6163','6012'][datum.value/2]",
                          "labelAngle": 270, "labelAlign": "right", "labelBaseline": "middle", "labelFontSize": 8.5, "labelPadding": 5, "labelFlush": false, "labelOverlap": false, "ticks": false, "offset": -47.5}},
           "x2": {"datum": 134.5},
           "color": {"field": "k", "type": "nominal", "scale": {"domain": ["mean", "inner", "outer"], "range": ["#000000", "#0000ff", "#ff0000"]}, "legend": null},
           "strokeDash": {"field": "k", "type": "nominal", "scale": {"domain": ["mean", "inner", "outer"], "range": [[1, 0], [2, 1], [2, 1]]}, "legend": null}
         }},
        {"data": {"values": [{}]}, "mark": {"type": "rule", "color": "#000000", "strokeWidth": 1}, "encoding": {"x": {"datum": -0.5}, "y": {"datum": 78}, "y2": {"datum": 94}}},
        {"data": {"values": [{}]}, "mark": {"type": "rule", "color": "#8c8c8c", "strokeWidth": 2}, "encoding": {"x": {"datum": -0.5}, "x2": {"datum": 134.5}, "y": {"datum": 78}}},
        {"data": {"name": "p3"}, "mark": {"type": "point", "filled": true, "stroke": "#000000", "opacity": 1},
         "encoding": {
           "x": {"field": "i", "type": "quantitative", "title": null},
           "y": {"field": "v", "type": "quantitative", "title": null},
           "shape": {"condition": {"test": "datum.o", "value": "M-1,-1L1,1M-1,1L1,-1"}, "value": "triangle-up"},
           "fill": {"condition": {"test": "datum.o", "value": "transparent"}, "value": "#ffff00"},
           "strokeWidth": {"condition": {"test": "datum.o", "value": 1.8}, "value": 0.9},
           "size": {"condition": {"test": "datum.o", "value": 28}, "value": 38}
         }},
        {"data": {"values": [{"t": "50% evaporated"}]}, "mark": {"type": "text", "fontSize": 29, "align": "left", "baseline": "alphabetic", "color": "#000000"},
         "encoding": {"x": {"datum": 4.5}, "y": {"datum": 92.29}, "text": {"field": "t"}}}
      ]},
      {"width": 306, "height": 305, "layer": [
        {"data": {"values": [{}]}, "mark": {"type": "rect", "fill": "transparent", "stroke": "#8c8c8c", "strokeWidth": 1},
         "encoding": {"x": {"datum": 70, "type": "quantitative", "scale": {"domain": [64.819, 101.687], "nice": false, "zero": false}}, "x2": {"datum": 100}, "y": {"datum": 0, "type": "quantitative", "scale": {"domain": [-0.075102, 0.422857], "nice": false, "zero": false}}, "y2": {"datum": 0.4}}},
        {"data": {"values": [{}]}, "mark": {"type": "rule", "color": "#000000"}, "encoding": {"x": {"datum": 70}, "y": {"datum": 0}, "y2": {"datum": 0.4}}},
        {"data": {"values": [{}]}, "mark": {"type": "rule", "color": "#000000"}, "encoding": {"x": {"datum": 70}, "x2": {"datum": 100}, "y": {"datum": 0}}},
        {"data": {"name": "d3"}, "mark": {"type": "line", "interpolate": "monotone"},
         "encoding": {
           "x": {"field": "x", "type": "quantitative", "title": null, "axis": {"values": [70, 80, 90, 100], "format": "d", "tickCount": 300, "labelOverlap": false, "offset": -46, "tickSize": 4, "tickColor": "#000", "labelFontSize": 11, "labelPadding": 2, "labelFlush": false}},
           "y": {"field": "y", "type": "quantitative", "title": null, "axis": {"values": [0, 0.05, 0.1, 0.15, 0.2, 0.25, 0.3, 0.35, 0.4], "tickCount": 300, "labelOverlap": false, "format": "~g", "offset": -43, "tickSize": 4, "tickColor": "#000", "labelFontSize": 11, "labelPadding": 5}},
           "color": {"field": "c", "type": "nominal", "scale": {"domain": ["kernel", "normal"], "range": ["#000000", "#0000ff"]}, "legend": null},
           "strokeDash": {"field": "c", "type": "nominal", "scale": {"domain": ["kernel", "normal"], "range": [[1, 0], [2, 1.5]]}, "legend": null},
           "strokeWidth": {"field": "c", "type": "nominal", "scale": {"domain": ["kernel", "normal"], "range": [1.3, 1]}, "legend": null}
         }},
        {"data": {"values": [{"t": "Kernel Density"}]}, "mark": {"type": "text", "fontSize": 12, "align": "left", "baseline": "alphabetic", "color": "#1c1ca8"},
         "encoding": {"x": {"datum": 87.5}, "y": {"datum": 0.3608}, "text": {"field": "t"}}}
      ]}
    ], "spacing": 5},

    {"hconcat": [
      {"width": 985, "height": 305, "layer": [
        {"data": {"name": "r4"}, "mark": {"type": "rule", "strokeWidth": 1.2},
         "encoding": {
           "y": {"field": "v", "type": "quantitative", "title": null, "scale": {"domain": [120.107, 151.525], "nice": false, "zero": false},
                 "axis": {"values": [125,130,135,140,145,150], "format": "d", "tickCount": 300, "labelOverlap": false, "offset": -25.5, "tickSize": 3, "tickColor": "#000", "labelFontSize": 8.5, "labelPadding": 3}},
           "x": {"datum": -0.5, "type": "quantitative", "scale": {"domain": [-4.116, 135.564], "nice": false, "zero": false},
                 "axis": {"values": [0,2,4,6,8,10,12,14,16,18,20,22,24,26,28,30,32,34,36,38,40,42,44,46,48,50,52,54,56,58,60,62,64,66,68,70,72,74,76,78,80,82,84,86,88,90,92,94,96,98,100,102,104,106,108,110,112,114,116,118,120,122,124,126,128,130,132,134], "tickCount": 300,
                          "labelExpr": "['399','1569','1227','404','1229','1141','445','1616','1457','333','904','1438','1833','1911','444','6075','1613','6203','971','6201','1724','311','120','1725','1281','1059','485','323','1713','2130','1026','1299','1402','403','370','1556','171','1134','1698','440','1099','496','1498','336','6262','1697','237','1441','353','974','338','1259','1728','369','732','785','998','875','1586','633','273','344','420','1397','6018','431','6163','225'][datum.value/2]",
                          "labelAngle": 270, "labelAlign": "right", "labelBaseline": "middle", "labelFontSize": 8.5, "labelPadding": 5, "labelFlush": false, "labelOverlap": false, "ticks": false, "offset": -47.5}},
           "x2": {"datum": 134.5},
           "color": {"field": "k", "type": "nominal", "scale": {"domain": ["mean", "inner", "outer"], "range": ["#000000", "#0000ff", "#ff0000"]}, "legend": null},
           "strokeDash": {"field": "k", "type": "nominal", "scale": {"domain": ["mean", "inner", "outer"], "range": [[1, 0], [2, 1], [2, 1]]}, "legend": null}
         }},
        {"data": {"values": [{}]}, "mark": {"type": "rule", "color": "#000000", "strokeWidth": 1}, "encoding": {"x": {"datum": -0.5}, "y": {"datum": 125}, "y2": {"datum": 150}}},
        {"data": {"values": [{}]}, "mark": {"type": "rule", "color": "#8c8c8c", "strokeWidth": 2}, "encoding": {"x": {"datum": -0.5}, "x2": {"datum": 134.5}, "y": {"datum": 125}}},
        {"data": {"name": "p4"}, "mark": {"type": "point", "filled": true, "stroke": "#000000", "opacity": 1},
         "encoding": {
           "x": {"field": "i", "type": "quantitative", "title": null},
           "y": {"field": "v", "type": "quantitative", "title": null},
           "shape": {"condition": {"test": "datum.o", "value": "M-1,-1L1,1M-1,1L1,-1"}, "value": "triangle-up"},
           "fill": {"condition": {"test": "datum.o", "value": "transparent"}, "value": "#ffff00"},
           "strokeWidth": {"condition": {"test": "datum.o", "value": 1.8}, "value": 0.9},
           "size": {"condition": {"test": "datum.o", "value": 28}, "value": 38}
         }},
        {"data": {"values": [{"t": "90% evaporated"}]}, "mark": {"type": "text", "fontSize": 29, "align": "left", "baseline": "alphabetic", "color": "#000000"},
         "encoding": {"x": {"datum": 3.54}, "y": {"datum": 147.33}, "text": {"field": "t"}}}
      ]},
      {"width": 306, "height": 305, "layer": [
        {"data": {"values": [{}]}, "mark": {"type": "rect", "fill": "transparent", "stroke": "#8c8c8c", "strokeWidth": 1},
         "encoding": {"x": {"datum": 125, "type": "quantitative", "scale": {"domain": [119.819, 156.687], "nice": false, "zero": false}}, "x2": {"datum": 155}, "y": {"datum": 0, "type": "quantitative", "scale": {"domain": [-0.08449, 0.475714], "nice": false, "zero": false}}, "y2": {"datum": 0.45}}},
        {"data": {"values": [{}]}, "mark": {"type": "rule", "color": "#000000"}, "encoding": {"x": {"datum": 125}, "y": {"datum": 0}, "y2": {"datum": 0.45}}},
        {"data": {"values": [{}]}, "mark": {"type": "rule", "color": "#000000"}, "encoding": {"x": {"datum": 125}, "x2": {"datum": 155}, "y": {"datum": 0}}},
        {"data": {"name": "d4"}, "mark": {"type": "line", "interpolate": "monotone"},
         "encoding": {
           "x": {"field": "x", "type": "quantitative", "title": null, "axis": {"values": [125, 135, 145, 155], "format": "d", "tickCount": 300, "labelOverlap": false, "offset": -46, "tickSize": 4, "tickColor": "#000", "labelFontSize": 11, "labelPadding": 2, "labelFlush": false}},
           "y": {"field": "y", "type": "quantitative", "title": null, "axis": {"values": [0, 0.05, 0.1, 0.15, 0.2, 0.25, 0.3, 0.35, 0.4, 0.45], "tickCount": 300, "labelOverlap": false, "format": "~g", "offset": -43, "tickSize": 4, "tickColor": "#000", "labelFontSize": 11, "labelPadding": 5}},
           "color": {"field": "c", "type": "nominal", "scale": {"domain": ["kernel", "normal"], "range": ["#000000", "#0000ff"]}, "legend": null},
           "strokeDash": {"field": "c", "type": "nominal", "scale": {"domain": ["kernel", "normal"], "range": [[1, 0], [2, 1.5]]}, "legend": null},
           "strokeWidth": {"field": "c", "type": "nominal", "scale": {"domain": ["kernel", "normal"], "range": [1.3, 1]}, "legend": null}
         }},
        {"data": {"values": [{"t": "Kernel Density"}]}, "mark": {"type": "text", "fontSize": 12, "align": "left", "baseline": "alphabetic", "color": "#1c1ca8"},
         "encoding": {"x": {"datum": 142.7}, "y": {"datum": 0.406}, "text": {"field": "t"}}}
      ]}
    ], "spacing": 5},

    {"hconcat": [
      {"width": 985, "height": 305, "layer": [
        {"data": {"name": "r5"}, "mark": {"type": "rule", "strokeWidth": 1.2},
         "encoding": {
           "y": {"field": "v", "type": "quantitative", "title": null, "scale": {"domain": [155.107, 186.525], "nice": false, "zero": false},
                 "axis": {"values": [160,165,170,175,180,185], "format": "d", "tickCount": 300, "labelOverlap": false, "offset": -25.5, "tickSize": 3, "tickColor": "#000", "labelFontSize": 8.5, "labelPadding": 3}},
           "x": {"datum": -0.5, "type": "quantitative", "scale": {"domain": [-4.143, 136.571], "nice": false, "zero": false},
                 "axis": {"values": [0,2,4,6,8,10,12,14,16,18,20,22,24,26,28,30,32,34,36,38,40,42,44,46,48,50,52,54,56,58,60,62,64,66,68,70,72,74,76,78,80,82,84,86,88,90,92,94,96,98,100,102,104,106,108,110,112,114,116,118,120,122,124,126,128,130,132,134], "tickCount": 300,
                          "labelExpr": "['1911','1167','1459','453','1457','1161','343','1438','6260','1618','1227','447','1713','273','904','824','381','1725','370','902','404','1611','6180','1741','1776','1259','6142','371','335','369','2129','1340','861','785','1441','1141','1941','1108','140','311','1650','1833','1134','1059','194','1724','6258','6201','1191','485','431','1634','120','1644','1586','336','6163','237','1109','1884','1742','1613','2130','463','1698','238','440','1011'][datum.value/2]",
                          "labelAngle": 270, "labelAlign": "right", "labelBaseline": "middle", "labelFontSize": 8.5, "labelPadding": 5, "labelFlush": false, "labelOverlap": false, "ticks": false, "offset": -47.5}},
           "x2": {"datum": 135.5},
           "color": {"field": "k", "type": "nominal", "scale": {"domain": ["mean", "inner", "outer"], "range": ["#000000", "#0000ff", "#ff0000"]}, "legend": null},
           "strokeDash": {"field": "k", "type": "nominal", "scale": {"domain": ["mean", "inner", "outer"], "range": [[1, 0], [2, 1], [2, 1]]}, "legend": null}
         }},
        {"data": {"values": [{}]}, "mark": {"type": "rule", "color": "#000000", "strokeWidth": 1}, "encoding": {"x": {"datum": -0.5}, "y": {"datum": 160}, "y2": {"datum": 185}}},
        {"data": {"values": [{}]}, "mark": {"type": "rule", "color": "#8c8c8c", "strokeWidth": 2}, "encoding": {"x": {"datum": -0.5}, "x2": {"datum": 135.5}, "y": {"datum": 160}}},
        {"data": {"name": "p5"}, "mark": {"type": "point", "filled": true, "stroke": "#000000", "opacity": 1},
         "encoding": {
           "x": {"field": "i", "type": "quantitative", "title": null},
           "y": {"field": "v", "type": "quantitative", "title": null},
           "shape": {"condition": {"test": "datum.o", "value": "M-1,-1L1,1M-1,1L1,-1"}, "value": "triangle-up"},
           "fill": {"condition": {"test": "datum.o", "value": "transparent"}, "value": "#ffff00"},
           "strokeWidth": {"condition": {"test": "datum.o", "value": 1.8}, "value": 0.9},
           "size": {"condition": {"test": "datum.o", "value": 28}, "value": 38}
         }},
        {"data": {"values": [{"t": "Final Boiling Point"}]}, "mark": {"type": "text", "fontSize": 29, "align": "left", "baseline": "alphabetic", "color": "#000000"},
         "encoding": {"x": {"datum": 4.0}, "y": {"datum": 182.33}, "text": {"field": "t"}}}
      ]},
      {"width": 306, "height": 305, "layer": [
        {"data": {"values": [{}]}, "mark": {"type": "rect", "fill": "transparent", "stroke": "#8c8c8c", "strokeWidth": 1},
         "encoding": {"x": {"datum": 160, "type": "quantitative", "scale": {"domain": [154.819, 191.687], "nice": false, "zero": false}}, "x2": {"datum": 190}, "y": {"datum": 0, "type": "quantitative", "scale": {"domain": [-0.046939, 0.264286], "nice": false, "zero": false}}, "y2": {"datum": 0.25}}},
        {"data": {"values": [{}]}, "mark": {"type": "rule", "color": "#000000"}, "encoding": {"x": {"datum": 160}, "y": {"datum": 0}, "y2": {"datum": 0.25}}},
        {"data": {"values": [{}]}, "mark": {"type": "rule", "color": "#000000"}, "encoding": {"x": {"datum": 160}, "x2": {"datum": 190}, "y": {"datum": 0}}},
        {"data": {"name": "d5"}, "mark": {"type": "line", "interpolate": "monotone"},
         "encoding": {
           "x": {"field": "x", "type": "quantitative", "title": null, "axis": {"values": [160, 170, 180, 190], "format": "d", "tickCount": 300, "labelOverlap": false, "offset": -46, "tickSize": 4, "tickColor": "#000", "labelFontSize": 11, "labelPadding": 2, "labelFlush": false}},
           "y": {"field": "y", "type": "quantitative", "title": null, "axis": {"values": [0, 0.05, 0.1, 0.15, 0.2, 0.25], "tickCount": 300, "labelOverlap": false, "format": "~g", "offset": -43, "tickSize": 4, "tickColor": "#000", "labelFontSize": 11, "labelPadding": 5}},
           "color": {"field": "c", "type": "nominal", "scale": {"domain": ["kernel", "normal"], "range": ["#000000", "#0000ff"]}, "legend": null},
           "strokeDash": {"field": "c", "type": "nominal", "scale": {"domain": ["kernel", "normal"], "range": [[1, 0], [2, 1.5]]}, "legend": null},
           "strokeWidth": {"field": "c", "type": "nominal", "scale": {"domain": ["kernel", "normal"], "range": [1.3, 1]}, "legend": null}
         }},
        {"data": {"values": [{"t": "Kernel Density"}]}, "mark": {"type": "text", "fontSize": 12, "align": "left", "baseline": "alphabetic", "color": "#1c1ca8"},
         "encoding": {"x": {"datum": 177.5}, "y": {"datum": 0.2255}, "text": {"field": "t"}}}
      ]}
    ], "spacing": 5}
  ],
  "spacing": 9.5
}
